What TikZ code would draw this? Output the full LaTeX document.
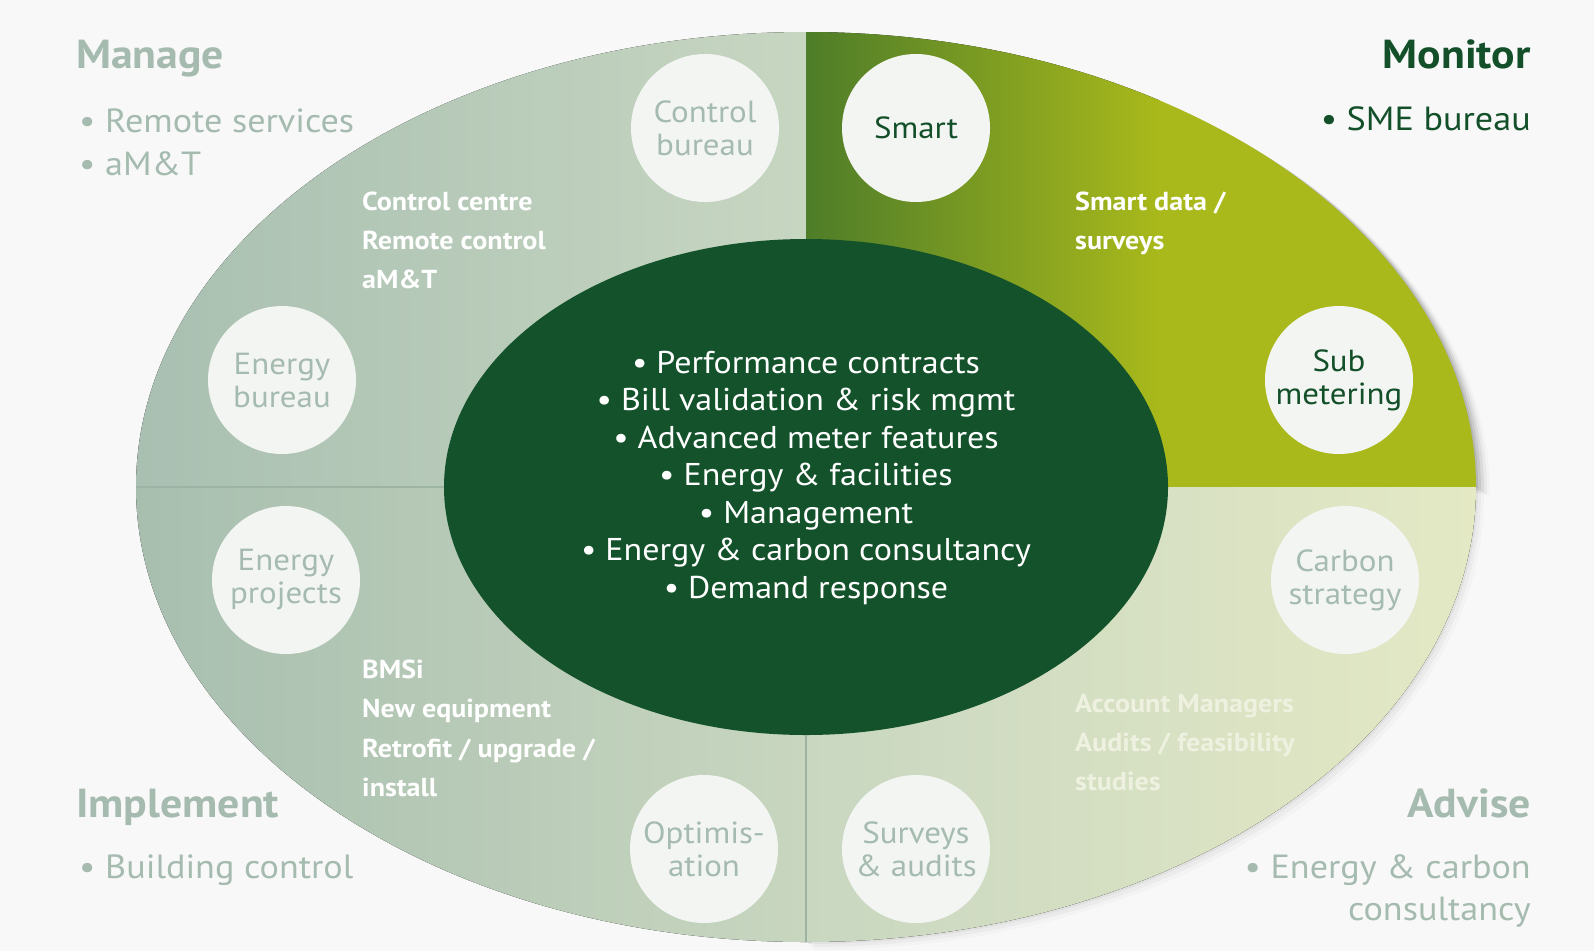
\documentclass[tikz,border=0pt]{standalone}
\usepackage{fontspec}
\setmainfont{PT Sans}[FakeStretch=1.08]
\usetikzlibrary{shapes.geometric}
\definecolor{bgc}{HTML}{F8F8F8}
\definecolor{manL}{HTML}{A8BFB1}
\definecolor{manR}{HTML}{C7D6C1}
\definecolor{monL}{HTML}{4E7D29}
\definecolor{monR}{HTML}{A9B91B}
\definecolor{impL}{HTML}{A7BEAF}
\definecolor{impR}{HTML}{C8D6BF}
\definecolor{advL}{HTML}{C9D7C1}
\definecolor{advR}{HTML}{E4E9C4}
\definecolor{corec}{HTML}{13522A}
\definecolor{discc}{HTML}{F3F5F3}
\definecolor{greytxt}{HTML}{A5BBAF}
\definecolor{darktxt}{HTML}{13502A}
\definecolor{sepline}{HTML}{9DB3A4}
\definecolor{advtxt}{HTML}{EEF1DF}
\begin{document}
\begin{tikzpicture}[x=1pt,y=-1pt,
  disc/.style={circle, fill=discc, minimum size=148pt, inner sep=0pt, align=center,
    font=\fontsize{30.5}{33}\selectfont, text=greytxt},
  darkdisc/.style={disc, text=darktxt},
  head/.style={inner sep=0pt, font=\bfseries\fontsize{40.5}{44}\selectfont},
  sub/.style={inner sep=0pt, font=\fontsize{33.5}{38}\selectfont},
  lbl/.style={inner sep=0pt, anchor=base west, font=\bfseries\fontsize{26}{29}\selectfont, text=white},
  corelbl/.style={inner sep=0pt, anchor=base, font=\fontsize{31.5}{36}\selectfont, text=white},
  quad/.style={inner sep=0pt, outer sep=0pt, ellipse}
]
\fill[bgc] (0,0) rectangle (1594,951);
\useasboundingbox (0,0) rectangle (1594,951);

% soft shadow on the right of the Monitor quarter
\foreach \s/\o in {2/0.10,5/0.08,8/0.06,11/0.04,14/0.02}{
  \fill[black, opacity=\o, shift={(\s,{0.6*\s})}]
    (806,487) -- (806,32) arc[start angle=-90, end angle=0, x radius=670, y radius=455] -- cycle;
}
\foreach \s/\o in {2/0.04,5/0.03,8/0.02}{
  \fill[black, opacity=\o, shift={(\s,\s)}]
    (806,487) -- (1476,487) arc[start angle=0, end angle=90, x radius=670, y radius=455] -- cycle;
}

% outer ring, four quarters
\node[quad, minimum width=1340pt, minimum height=910pt] (outer) at (806,487) {};
\begin{scope}
  \clip (806,487) ellipse [x radius=670, y radius=455];
  \fill[left color=manL, right color=manR] (130,28) rectangle (806,487);
  \fill[left color=impL, right color=impR] (130,487) rectangle (806,946);
  \fill[left color=advL, right color=advR] (806,487) rectangle (1480,946);
  \fill[left color=monL, right color=monR] (806,28) rectangle (1160,487);
  \fill[monR] (1159,28) rectangle (1480,487);
\end{scope}

% core
\node[quad, fill=corec, minimum width=724pt, minimum height=496pt] (core) at (806,487) {};

% separators
\draw[sepline, line width=1.3pt] (outer.west) -- (core.west);
\draw[sepline, line width=1.3pt] (core.south) -- (outer.south);

% core text
\foreach \t [count=\i] in {{• Performance contracts},{• Bill validation \& risk mgmt},
  {• Advanced meter features},{• Energy \& facilities},{• Management},
  {• Energy \& carbon consultancy},{• Demand response}}{
  \node[corelbl] (c\i) at (806,{373+37.5*(\i-1)}) {\t};
}

% discs
\node[disc] (cbur) at (705,128) {Control\\bureau};
\node[darkdisc] (smart) at (916,128) {Smart};
\node[disc] (ebur) at (282,380) {Energy\\bureau};
\node[darkdisc] (subm) at (1339,380) {Sub\\metering};
\node[disc] (eproj) at (286,580) {Energy\\projects};
\node[disc] (carb) at (1345,580) {Carbon\\strategy};
\node[disc] (optim) at (704,849) {Optimis-\\ation};
\node[disc] (surv) at (916,849) {Surveys\\\&~audits};

% white labels
\foreach \t [count=\i] in {Control centre, Remote control, aM\&T}{
  \node[lbl] (mlab\i) at (362,{210+39*(\i-1)}) {\t};
}
\foreach \t [count=\i] in {Smart data /, surveys}{
  \node[lbl] (slab\i) at (1075,{210+39*(\i-1)}) {\t};
}
\foreach \t [count=\i] in {BMSi, New equipment, Retrofit / upgrade /, install}{
  \node[lbl] (ilab\i) at (362,{678+39.5*(\i-1)}) {\t};
}
\foreach \t [count=\i] in {Account Managers, Audits / feasibility, studies}{
  \node[lbl, text=advtxt] (alab\i) at (1075,{712+39*(\i-1)}) {\t};
}

% corner headings
\node[head, anchor=base west, text=greytxt] (hman) at (76,68) {Manage};
\node[sub, anchor=base west, text=greytxt] (man1) at (79,132) {• Remote services};
\node[sub, anchor=base west, text=greytxt] (man2) at (79,175) {• aM\&T};

\node[head, anchor=base east, text=darktxt] (hmon) at (1531,68) {Monitor};
\node[sub, anchor=base east, text=darktxt] (mon1) at (1531,130) {• SME bureau};

\node[head, anchor=base west, text=greytxt] (himp) at (76,817) {Implement};
\node[sub, anchor=base west, text=greytxt] (imp1) at (79,878) {• Building control};

\node[head, anchor=base east, text=greytxt] (hadv) at (1531,817) {Advise};
\node[sub, anchor=base east, text=greytxt] (adv1) at (1531,878) {• Energy \& carbon};
\node[sub, anchor=base east, text=greytxt] (adv2) at (1531,920) {consultancy};
\end{tikzpicture}
\end{document}
